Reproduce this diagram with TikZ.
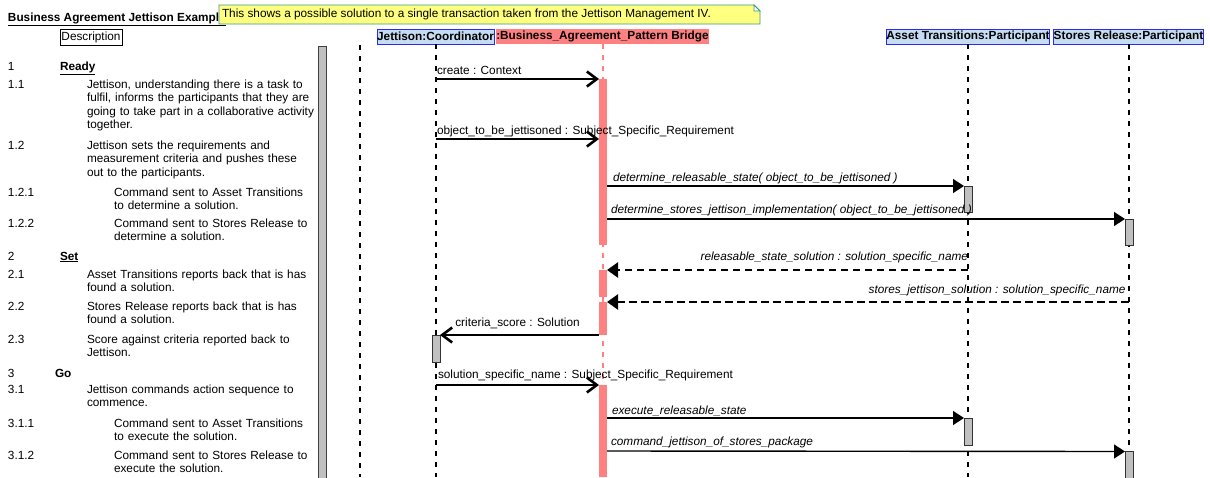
\documentclass[tikz,border=0pt]{standalone}
\usepackage{fontspec}
\setmainfont{Liberation Sans}
\usetikzlibrary{arrows.meta}
\definecolor{headfill}{HTML}{C6DCF2}
\definecolor{headline}{HTML}{2A2AF0}
\definecolor{bridgepink}{HTML}{FF8080}
\definecolor{notefill}{HTML}{FFFF80}
\definecolor{noteline}{HTML}{3A9A8A}
\definecolor{actgray}{HTML}{C0C0C0}
\newcommand\txtsz{\fontsize{11.8}{13.6}\selectfont}
\begin{document}
\begin{tikzpicture}[x=1pt,y=-1pt,
  every node/.style={inner sep=0pt, outer sep=0pt},
  numtxt/.style={anchor=base west, font=\txtsz},
  desctxt/.style={anchor=base west, font=\txtsz, text width=240pt, align=left},
  header/.style={draw=headline, fill=headfill, line width=1pt, font=\txtsz\bfseries, minimum height=15pt},
  bridgehead/.style={fill=bridgepink, font=\txtsz\bfseries, minimum height=15pt},
  lifeline/.style={line width=2pt, dash pattern=on 5pt off 6pt},
  pinkline/.style={lifeline, draw=bridgepink},
  pinkact/.style={fill=bridgepink, minimum width=8pt},
  grayact/.style={draw=black!80, fill=actgray, line width=0.9pt, minimum width=8pt},
  sync/.style={line width=1.7pt, -{Straight Barb[length=10pt,width=15pt,line width=2.6pt]}},
  call/.style={line width=1.4pt, -{Triangle[length=11pt,width=14pt]}},
  reply/.style={line width=2.3pt, dash pattern=on 7.5pt off 4.5pt, -{Triangle[length=11pt,width=15pt]}},
  msglbl/.style={font=\txtsz},
  asynclbl/.style={font=\txtsz\itshape}
]
\useasboundingbox (0,0) rectangle (1210,477);
\fill[white] (0,0) rectangle (1210,477);

% title and note
\node[anchor=base west, font=\txtsz\bfseries] (title) at (8,21) {\underline{Business Agreement Jettison Example}};
\draw[draw=noteline, fill=notefill, line width=0.8pt] (219,5) -- (754,5) -- (760,11) -- (760,24) -- (219,24) -- cycle;
\draw[draw=noteline, fill=white, line width=0.8pt] (754,5) -- (754,11) -- (760,11) -- cycle;
\node[anchor=base west, font=\txtsz] (notetext) at (222,17) {This shows a possible solution to a single transaction taken from the Jettison Management IV.};

% description column
\node[draw, line width=1pt, minimum width=62pt, minimum height=16pt, font=\txtsz] (descbox) at (91,37.3) {Description};

\node[numtxt] (n1) at (8,70) {1};
\node[numtxt, font=\txtsz\bfseries] (d1) at (60,70) {\underline{Ready}};
\node[numtxt] (n11) at (8,88) {1.1};
\node[desctxt] (d11) at (87,88) {Jettison, understanding there is a task to\\fulfil, informs the participants that they are\\going to take part in a collaborative activity\\together.};
\node[numtxt] (n12) at (8,149) {1.2};
\node[desctxt] (d12) at (87,149) {Jettison sets the requirements and\\measurement criteria and pushes these\\out to the participants.};
\node[numtxt] (n121) at (8,196) {1.2.1};
\node[desctxt] (d121) at (114,196) {Command sent to Asset Transitions\\to determine a solution.};
\node[numtxt] (n122) at (8,227) {1.2.2};
\node[desctxt] (d122) at (114,227) {Command sent to Stores Release to\\determine a solution.};
\node[numtxt] (n2) at (8,260) {2};
\node[numtxt, font=\txtsz\bfseries] (d2) at (60,260) {\underline{Set}};
\node[numtxt] (n21) at (8,278) {2.1};
\node[desctxt] (d21) at (87,278) {Asset Transitions reports back that is has\\found a solution.};
\node[numtxt] (n22) at (8,310) {2.2};
\node[desctxt] (d22) at (87,310) {Stores Release reports back that is has\\found a solution.};
\node[numtxt] (n23) at (8,343) {2.3};
\node[desctxt] (d23) at (87,343) {Score against criteria reported back to\\Jettison.};
\node[numtxt] (n3) at (8,377) {3};
\node[numtxt, font=\txtsz\bfseries] (d3) at (55,377) {Go};
\node[numtxt] (n31) at (8,393) {3.1};
\node[desctxt] (d31) at (87,393) {Jettison commands action sequence to\\commence.};
\node[numtxt] (n311) at (8,427) {3.1.1};
\node[desctxt] (d311) at (114,427) {Command sent to Asset Transitions\\to execute the solution.};
\node[numtxt] (n312) at (8,459) {3.1.2};
\node[desctxt] (d312) at (114,459) {Command sent to Stores Release to\\execute the solution.};

% separator bar and frame line
\draw[draw=black!75, fill=actgray, line width=0.9pt] (318,46) rectangle (326,478);
\draw[lifeline] (359.5,45) -- (359.5,477);

% participants
\node[header, minimum width=117pt] (jc) at (435.5,36.7) {Jettison:Coordinator};
\node[bridgehead, minimum width=211pt] (br) at (602.5,36.7) {:Business\_Agreement\_Pattern Bridge};
\node[header, minimum width=162pt] (at) at (968,36.7) {Asset Transitions:Participant};
\node[header, minimum width=150pt] (sr) at (1128.5,36.7) {Stores Release:Participant};

\coordinate (bottom) at (0,477);

% lifelines
\draw[lifeline] (jc.south) -- (jc.south |- bottom);
\draw[pinkline] (br.south) -- (br.south |- bottom);
\draw[lifeline] (at.south) -- (at.south |- bottom);
\draw[lifeline] (sr.south) -- (sr.south |- bottom);

% activations
\node[pinkact, minimum height=166pt] (ba1) at (603,162) {};
\node[pinkact, minimum height=27pt] (ba2) at (603,283.5) {};
\node[pinkact, minimum height=33pt] (ba3) at (603,318.5) {};
\node[pinkact, minimum height=92pt] (ba4) at (603,431) {};
\node[grayact, minimum height=27pt] (ja1) at (436,348.5) {};
\node[grayact, minimum height=26pt] (aa1) at (968,199) {};
\node[grayact, minimum height=27pt] (aa2) at (968,431.5) {};
\node[grayact, minimum height=26pt] (sa1) at (1129,232) {};
\node[grayact, minimum height=27pt] (sa2) at (1129,465) {};

% message levels
\coordinate (y2) at (0,139);
\coordinate (y3) at (0,186);
\coordinate (y4) at (0,219);
\coordinate (y5) at (0,270);
\coordinate (y6) at (0,302);
\coordinate (y9) at (0,418);
\coordinate (y10) at (0,451);

% messages
\draw[sync] (jc.south |- ba1.north) -- (ba1.north west)
  node[msglbl, pos=0, anchor=base west, xshift=1.5pt, yshift=5pt] (l1) {create : Context};
\draw[sync] (jc.south |- y2) -- (ba1.west |- y2)
  node[msglbl, pos=0, anchor=base west, xshift=1.5pt, yshift=5pt] (l2) {object\_to\_be\_jettisoned : Subject\_Specific\_Requirement};
\draw[call] (ba1.east |- y3) -- (aa1.north west)
  node[asynclbl, pos=0, anchor=base west, xshift=6pt, yshift=4.3pt] (l3) {determine\_releasable\_state( object\_to\_be\_jettisoned )};
\draw[call] (ba1.east |- y4) -- (sa1.north west)
  node[asynclbl, pos=0, anchor=base west, xshift=4pt, yshift=5.7pt] (l4) {determine\_stores\_jettison\_implementation( object\_to\_be\_jettisoned )};
\draw[reply] (at.south |- y5) -- (ba2.north east)
  node[asynclbl, pos=0, anchor=base east, xshift=0pt, yshift=9.3pt] (l5) {releasable\_state\_solution : solution\_specific\_name};
\draw[reply] (sr.south |- y6) -- (ba3.north east)
  node[asynclbl, pos=0, anchor=base east, xshift=-3pt, yshift=8.7pt] (l6) {stores\_jettison\_solution : solution\_specific\_name};
\draw[sync] (ba3.south west) -- (ja1.north east)
  node[msglbl, midway, anchor=base, xshift=-2pt, yshift=8.3pt] (l7) {criteria\_score : Solution};
\draw[sync] (jc.south |- ba4.north) -- (ba4.north west)
  node[msglbl, pos=0, anchor=base west, xshift=2.5pt, yshift=7pt] (l8) {solution\_specific\_name : Subject\_Specific\_Requirement};
\draw[call] (ba4.east |- y9) -- (aa2.north west)
  node[asynclbl, pos=0, anchor=base west, xshift=5pt, yshift=4pt] (l9) {execute\_releasable\_state};
\draw[call] (ba4.east |- y10) -- (sa2.north west)
  node[asynclbl, pos=0, anchor=base west, xshift=4pt, yshift=6pt] (l10) {command\_jettison\_of\_stores\_package};
\end{tikzpicture}
\end{document}
